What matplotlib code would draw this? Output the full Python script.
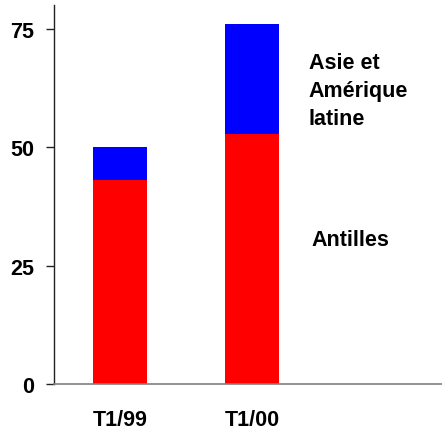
import matplotlib
matplotlib.use("Agg")
import matplotlib.pyplot as plt

categories = ["T1/99", "T1/00"]
antilles = [43, 52.8]
asie_amerique = [7, 23.2]
series_labels = ["Antilles", "Asie et\nAmérique\nlatine"]
yticks = [0, 25, 50, 75]

plt.rcParams['font.family'] = ['Liberation Sans', 'DejaVu Sans']

fig = plt.figure(figsize=(4.42, 4.31), dpi=100)
ax = fig.add_axes([54/442, 1 - 385.3/431, 1 - 54/442, (385.3 - 6)/431])

x = list(range(len(categories)))
w = 0.409
ax.bar(x, antilles, width=w, color='#ff0000', linewidth=0)
ax.bar(x, asie_amerique, width=w, bottom=antilles, color='#0000ff', linewidth=0)

ax.set_xlim(-0.5, 2.44)
ax.set_ylim(0, 80)
ax.set_yticks(yticks)
ax.set_yticklabels([str(v) for v in yticks], fontsize=15.5, fontweight='bold')
ax.set_xticks(x)
ax.set_xticklabels(categories, fontsize=15.5, fontweight='bold')

for s in ['top', 'right']:
    ax.spines[s].set_visible(False)
ax.spines['left'].set_color('#222222')
ax.spines['left'].set_linewidth(1.0)
ax.spines['bottom'].set_color('#808080')
ax.spines['bottom'].set_linewidth(1.2)

ax.tick_params(axis='y', direction='out', length=6, width=1.0, color='#222222', pad=8.4)
ax.tick_params(axis='x', length=0, pad=18)

ax.text(1.43, 62.0, series_labels[1], fontsize=15.5, fontweight='bold',
        ha='left', va='center', linespacing=1.45)
ax.text(1.45, 29.3, series_labels[0], fontsize=15.5, fontweight='bold',
        ha='left', va='baseline')

fig.savefig("out.png", dpi=100)
